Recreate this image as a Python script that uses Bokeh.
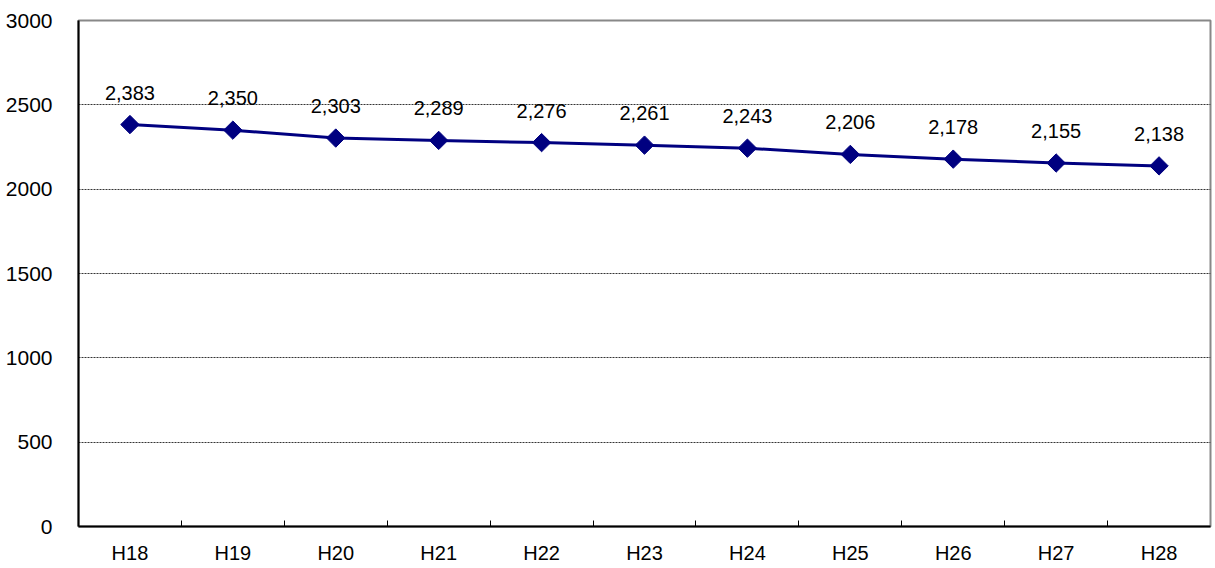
from bokeh.plotting import figure
from bokeh.models import ColumnDataSource, FixedTicker, Range1d, LabelSet
from bokeh.core.properties import value
from bokeh.embed import file_html
from bokeh.resources import INLINE

categories = ["H18", "H19", "H20", "H21", "H22", "H23", "H24", "H25", "H26", "H27", "H28"]
values = [2383, 2350, 2303, 2289, 2276, 2261, 2243, 2206, 2178, 2155, 2138]
y_ticks = [0, 500, 1000, 1500, 2000, 2500, 3000]

xs = list(range(len(categories)))
src = ColumnDataSource(dict(x=xs, y=values, lbl=[f"{v:,}" for v in values]))

FONT = "Liberation Sans"

p = figure(width=1213, height=566, output_backend="svg", toolbar_location=None,
           x_range=Range1d(-0.5, len(categories) - 0.5), y_range=Range1d(0, 3000),
           min_border_left=78, min_border_right=3, min_border_top=20, min_border_bottom=40)
p.outline_line_color = "#888888"
p.outline_line_width = 2

p.line("x", "y", source=src, line_color="#000080", line_width=3)
p.scatter("x", "y", source=src, marker="square", angle=0.785398, size=13,
          fill_color="#000080", line_color="#000080")

labels = LabelSet(x="x", y="y", text="lbl", source=src, text_align="center", text_baseline="middle",
                  y_offset=32, text_font=value(FONT), text_font_size=value("20px"),
                  text_color=value("#000000"))
p.add_layout(labels)

p.xaxis.ticker = FixedTicker(ticks=xs, minor_ticks=[i + 0.5 for i in xs[:-1]])
p.xaxis.major_label_overrides = {i: c for i, c in enumerate(categories)}
p.xaxis.major_tick_line_color = None
p.xaxis.minor_tick_in = 6
p.xaxis.minor_tick_out = 0
p.xaxis.minor_tick_line_color = "#000000"
p.xaxis.axis_line_color = "#000000"
p.xaxis.axis_line_width = 2
p.xaxis.major_label_text_font = FONT
p.xaxis.major_label_text_font_size = "20px"
p.xaxis.major_label_text_color = "#000000"
p.xaxis.major_label_standoff = 9

p.yaxis.ticker = FixedTicker(ticks=y_ticks)
p.yaxis.major_tick_line_color = None
p.yaxis.minor_tick_line_color = None
p.yaxis.axis_line_color = "#000000"
p.yaxis.axis_line_width = 2
p.yaxis.major_label_text_font = FONT
p.yaxis.major_label_text_font_size = "21px"
p.yaxis.major_label_text_color = "#000000"
p.yaxis.major_label_standoff = 20

p.xgrid.grid_line_color = None
p.ygrid.grid_line_color = "#000000"
p.ygrid.grid_line_dash = "2 1"
p.ygrid.grid_line_width = 0.8

open("out.html", "w").write(file_html(p, INLINE))
